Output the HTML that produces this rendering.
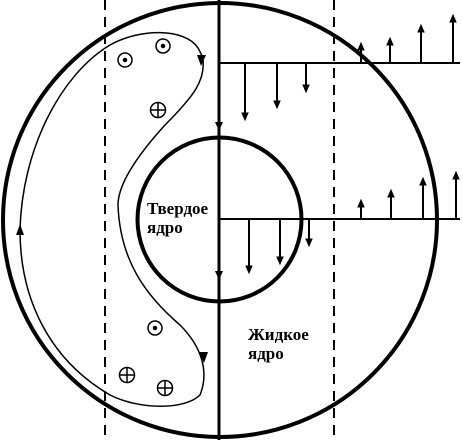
<!DOCTYPE html>
<html><head><meta charset="utf-8"><style>
html,body{margin:0;padding:0;background:#fff;width:463px;height:440px;overflow:hidden}
svg{display:block}
text{font-family:"Liberation Serif",serif;font-weight:bold;font-size:17px;fill:#000}
</style></head><body>
<svg width="463" height="440" viewBox="0 0 463 440">
<line x1="105" y1="0" x2="105" y2="440" stroke="#000" stroke-width="2" stroke-dasharray="10,7"/>
<line x1="334" y1="0" x2="334" y2="440" stroke="#000" stroke-width="2" stroke-dasharray="10,7"/>
<circle cx="220" cy="220" r="217" fill="none" stroke="#000" stroke-width="4"/>
<circle cx="219.5" cy="219.5" r="82" fill="none" stroke="#000" stroke-width="4"/>
<line x1="219" y1="0" x2="219" y2="440" stroke="#000" stroke-width="3"/>
<path d="M203,60 C205,80 195,95 165,125 C135,158 118,185 118,205 C120,260 145,295 180,325 C200,345 210,370 200,395 C185,410 140,410 110,395 C50,360 20,300 20,230 C22,150 60,75 110,45 C140,28 185,28 198,48 C202,55 203,58 203,60 Z" fill="none" stroke="#000" stroke-width="1.5"/>
<path d="M197,55 L201,66 L206,55 Z"/>
<path d="M199,352 L204,363 L208,352 Z"/>
<path d="M16,235 L20,224 L24,235 Z"/>
<path d="M215,122 L219,131 L223,122 Z"/>
<path d="M215,271 L219,280 L223,271 Z"/>
<g id="sym" stroke="#000" stroke-width="1.5" fill="none"></g>
<g id="vel" stroke="#000" stroke-width="2"></g>
<text x="147" y="214">Твердое</text>
<text x="147" y="233">ядро</text>
<text x="248" y="340">Жидкое</text>
<text x="248" y="359">ядро</text>
</svg>
<script>
const ns="http://www.w3.org/2000/svg";
const rowYs=[63,219];
const arrowXs=[[245,277,306,361,390,421,453],[249,280,309,361,391,423,456]];
const arrowVals=[[-57,-45,-29,20,25,38,48],[-54,-45,-27,19,29,41,47]];
const dotSyms=[[125,60],[163,46],[155,328]];
const plusSyms=[[158,110],[127,375],[165,388]];
const vel=document.getElementById('vel');
function mk(t,a){const e=document.createElementNS(ns,t);for(const k in a)e.setAttribute(k,a[k]);return e;}
rowYs.forEach((y,r)=>{
  const base=mk('line',{x1:219,y1:y,x2:460,y2:y});
  
  
  vel.appendChild(base);
  arrowXs[r].forEach((x,i)=>{
    const v=arrowVals[r][i];const end=y-v;const d=v>0?1:-1;
    const l=mk('line',{x1:x,y1:y,x2:x,y2:end+d*4});
    
    
    vel.appendChild(l);
    const h=mk('path',{d:`M${x-3},${end+d*7} L${x},${end} L${x+3},${end+d*7} Z`,fill:'#000','stroke-width':1});
    
    
    vel.appendChild(h);
  });
});
const sym=document.getElementById('sym');
dotSyms.forEach(([x,y])=>{
  const c=mk('circle',{cx:x,cy:y,r:7});
  
  
  sym.appendChild(c);
  const d=mk('circle',{cx:x,cy:y,r:1.5,fill:'#000'});
  
  
  sym.appendChild(d);
});
plusSyms.forEach(([x,y])=>{
  const c=mk('circle',{cx:x,cy:y,r:7.5});
  
  
  sym.appendChild(c);
  const p=mk('path',{d:`M${x-7.5},${y} H${x+7.5} M${x},${y-7.5} V${y+7.5}`});
  
  
  sym.appendChild(p);
});
</script>
</body></html>
